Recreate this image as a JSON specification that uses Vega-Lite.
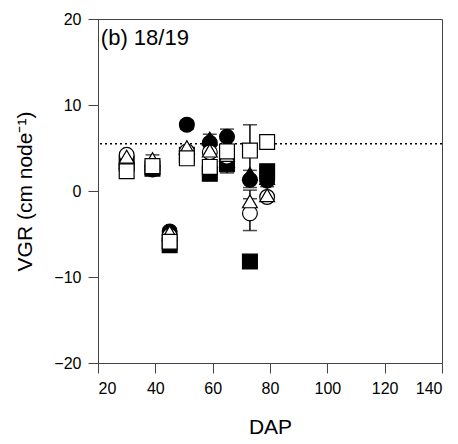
{
  "$schema": "https://vega.github.io/schema/vega-lite/v6.json",
  "autosize": "none",
  "width": 344,
  "height": 344,
  "padding": {"left": 98, "top": 19, "right": 16, "bottom": 81},
  "background": "white",
  "config": {
    "view": {"stroke": "#444", "strokeWidth": 1},
    "axis": {
      "grid": false,
      "labelFont": "Liberation Sans",
      "labelFontSize": 16,
      "labelColor": "black",
      "titleFont": "Liberation Sans",
      "titleFontSize": 21,
      "titleFontWeight": "normal",
      "titleColor": "black",
      "domainColor": "#444",
      "tickColor": "#444",
      "tickSize": 10,
      "labelPadding": 7
    }
  },
  "datasets": {
    "pts": [
      {"dap": 30, "s": "fs", "v": 3.2, "lo": 2.6, "hi": 3.8},
      {"dap": 39, "s": "fs", "v": 2.6},
      {"dap": 45, "s": "fs", "v": -6.3, "lo": -6.9, "hi": -5.7},
      {"dap": 51, "s": "fs", "v": 4.2},
      {"dap": 59, "s": "fs", "v": 2.0, "lo": 1.6, "hi": 2.4},
      {"dap": 65, "s": "fs", "v": 3.1, "lo": 2.1, "hi": 4.0},
      {"dap": 73, "s": "fs", "v": -8.2, "lo": -8.6, "hi": -7.8},
      {"dap": 79, "s": "fs", "v": 2.3, "lo": 1.9, "hi": 2.8},
      {"dap": 30, "s": "fc", "v": 3.0},
      {"dap": 39, "s": "fc", "v": 2.5},
      {"dap": 45, "s": "fc", "v": -4.7, "lo": -5.1, "hi": -4.3},
      {"dap": 51, "s": "fc", "v": 7.7, "lo": 7.2, "hi": 8.2},
      {"dap": 59, "s": "fc", "v": 5.6},
      {"dap": 65, "s": "fc", "v": 6.3, "lo": 5.4, "hi": 7.2},
      {"dap": 73, "s": "fc", "v": 1.3, "lo": 0.4, "hi": 2.4},
      {"dap": 79, "s": "fc", "v": 1.2, "lo": 0.5, "hi": 1.9},
      {"dap": 30, "s": "ft", "v": 3.4},
      {"dap": 39, "s": "ft", "v": 2.7},
      {"dap": 45, "s": "ft", "v": -5.0},
      {"dap": 51, "s": "ft", "v": 5.0},
      {"dap": 59, "s": "ft", "v": 6.1, "lo": 5.6, "hi": 6.6},
      {"dap": 65, "s": "ft", "v": 3.5},
      {"dap": 73, "s": "ft", "v": 2.0},
      {"dap": 79, "s": "ft", "v": 1.5},
      {"dap": 30, "s": "oc", "v": 4.2},
      {"dap": 39, "s": "oc", "v": 2.8},
      {"dap": 45, "s": "oc", "v": -5.2},
      {"dap": 51, "s": "oc", "v": 4.6},
      {"dap": 59, "s": "oc", "v": 4.5},
      {"dap": 65, "s": "oc", "v": 4.0},
      {"dap": 73, "s": "oc", "v": -2.6, "lo": -4.6, "hi": -0.9},
      {"dap": 79, "s": "oc", "v": -0.7},
      {"dap": 30, "s": "ot", "v": 4.0},
      {"dap": 39, "s": "ot", "v": 3.7, "lo": 3.3, "hi": 4.2},
      {"dap": 45, "s": "ot", "v": -4.8},
      {"dap": 51, "s": "ot", "v": 5.1},
      {"dap": 59, "s": "ot", "v": 4.7},
      {"dap": 65, "s": "ot", "v": 4.2},
      {"dap": 73, "s": "ot", "v": -1.2, "lo": -2.6, "hi": 0.1},
      {"dap": 79, "s": "ot", "v": -0.5},
      {"dap": 30, "s": "os", "v": 2.3},
      {"dap": 39, "s": "os", "v": 2.9},
      {"dap": 45, "s": "os", "v": -5.9},
      {"dap": 51, "s": "os", "v": 3.8},
      {"dap": 59, "s": "os", "v": 2.8},
      {"dap": 65, "s": "os", "v": 4.6},
      {"dap": 73, "s": "os", "v": 4.7, "lo": 1.7, "hi": 7.7},
      {"dap": 79, "s": "os", "v": 5.7}
    ],
    "ref": [{"y": 5.5}],
    "label": [{"dap": 21, "v": 17.0, "text": "(b) 18/19"}]
  },
  "layer": [
    {
      "data": {"name": "ref"},
      "mark": {"type": "rule", "color": "black", "strokeWidth": 1.5, "strokeDash": [2, 3]},
      "encoding": {
        "y": {"field": "y", "type": "quantitative", "scale": {"domain": [-20, 20]}, "title": "VGR (cm node⁻¹)"}
      }
    },
    {
      "data": {"name": "pts"},
      "transform": [{"filter": "isValid(datum.lo)"}],
      "mark": {"type": "errorbar", "ticks": {"size": 14, "thickness": 1.5, "color": "black"}, "rule": {"strokeWidth": 1.5, "color": "black"}, "color": "black"},
      "encoding": {
        "x": {"field": "dap", "type": "quantitative", "scale": {"domain": [20, 140]}, "title": "DAP"},
        "y": {"field": "lo", "type": "quantitative", "scale": {"domain": [-20, 20]}, "title": "VGR (cm node⁻¹)"},
        "y2": {"field": "hi"}
      }
    },
    {
      "data": {"name": "pts"},
      "mark": {"type": "point", "filled": true, "stroke": "black", "strokeWidth": 1.2, "opacity": 1, "size": 220},
      "encoding": {
        "x": {"field": "dap", "type": "quantitative", "scale": {"domain": [20, 140]}, "title": "DAP",
              "axis": {"values": [20, 40, 60, 80, 100, 120, 140], "titlePadding": 20}},
        "y": {"field": "v", "type": "quantitative", "scale": {"domain": [-20, 20]}, "title": "VGR (cm node⁻¹)",
              "axis": {"values": [-20, -10, 0, 10, 20], "titlePadding": 18}},
        "shape": {"field": "s", "type": "nominal", "legend": null,
                  "scale": {"domain": ["fc", "oc", "ft", "ot", "fs", "os"], "range": ["circle", "circle", "triangle-up", "triangle-up", "square", "square"]}},
        "fill": {"field": "s", "type": "nominal", "legend": null,
                 "scale": {"domain": ["fc", "oc", "ft", "ot", "fs", "os"], "range": ["black", "white", "black", "white", "black", "white"]}}
      }
    },
    {
      "data": {"name": "label"},
      "mark": {"type": "text", "align": "left", "baseline": "alphabetic", "font": "Liberation Sans", "fontSize": 22, "fontWeight": "normal", "fill": "black"},
      "encoding": {
        "x": {"field": "dap", "type": "quantitative", "title": "DAP"},
        "y": {"field": "v", "type": "quantitative", "title": "VGR (cm node⁻¹)"},
        "text": {"field": "text"}
      }
    }
  ]
}
